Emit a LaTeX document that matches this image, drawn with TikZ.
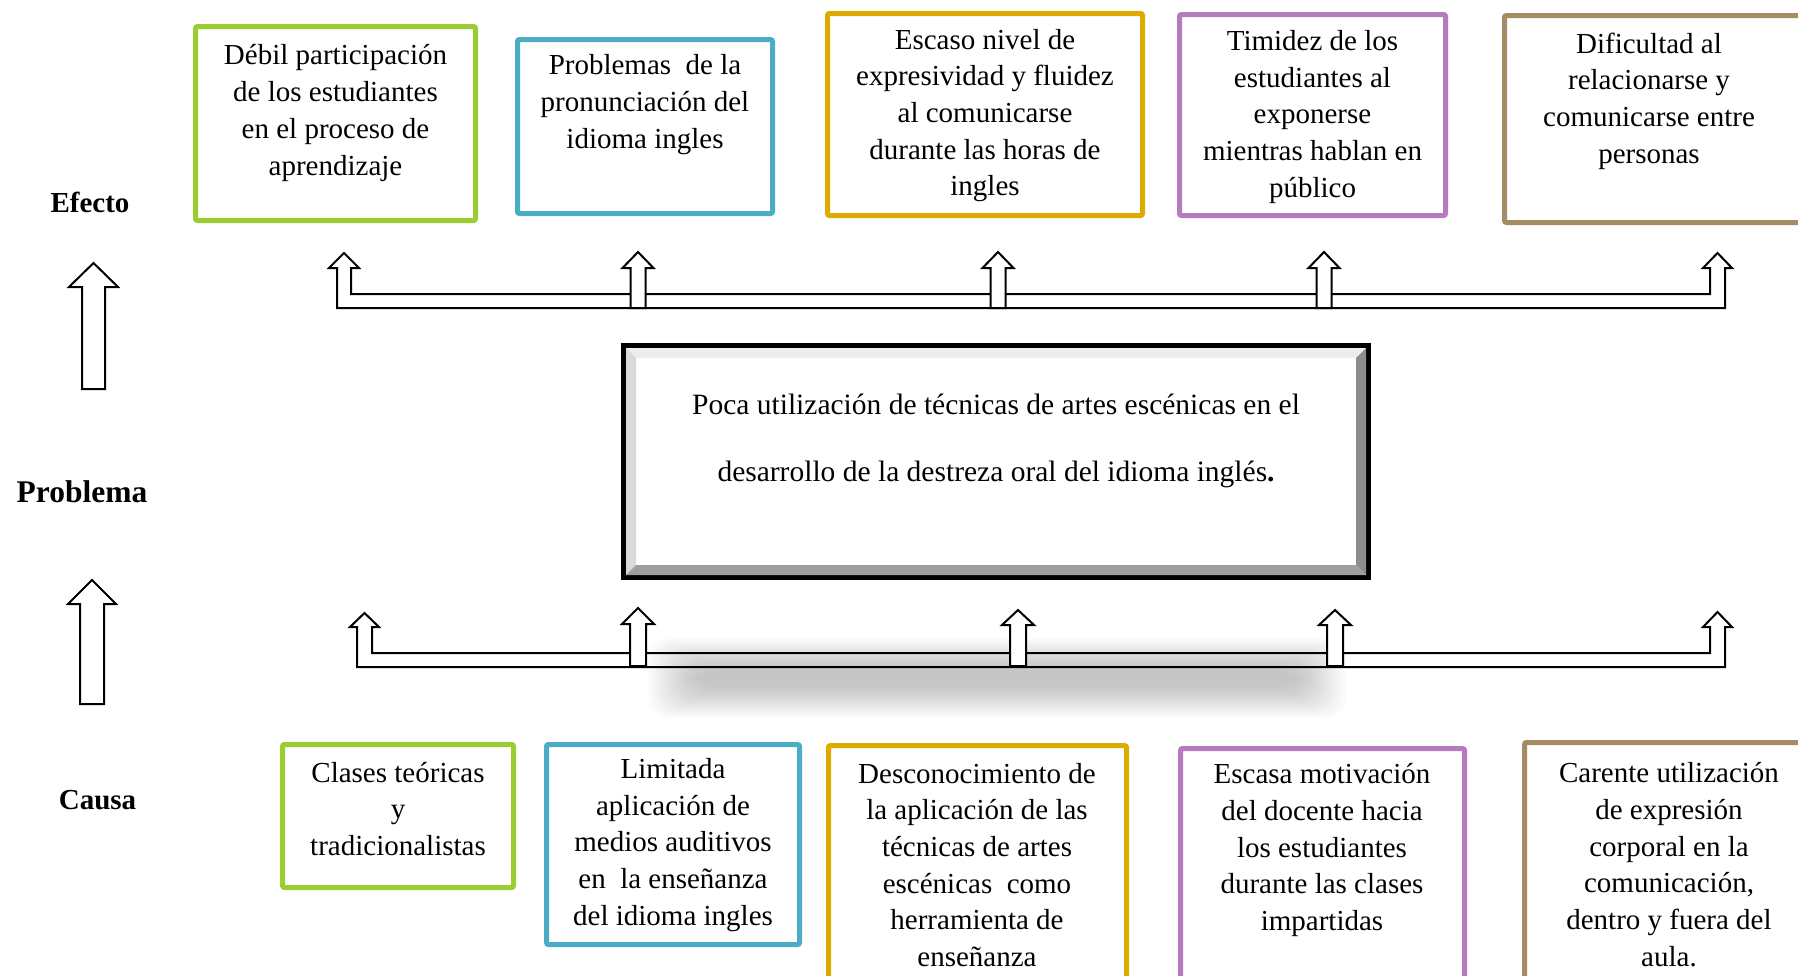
\documentclass[tikz,border=0pt]{standalone}
\usepackage{fontspec}
\setmainfont{Liberation Serif}

\definecolor{verde}{RGB}{154,205,50}
\definecolor{celeste}{RGB}{75,172,198}
\definecolor{oro}{RGB}{222,170,0}
\definecolor{lila}{RGB}{180,124,188}
\definecolor{cafe}{RGB}{166,140,100}

\tikzset{
  caja/.style={draw=#1,line width=5pt,rounded corners=2pt,fill=white,inner sep=0pt},
  texto/.style={align=center,inner sep=0pt,font=\fontsize{29}{36.7}\selectfont},
  rotulo/.style={inner sep=0pt,font=\bfseries\fontsize{29}{34}\selectfont},
  llave/.style={draw=black,line width=2pt,line join=miter},
  flecha/.style={draw=black,line width=2pt,fill=white,line join=miter}
}

% x, punta, base de la cabeza, fondo, medio ancho del cuerpo, medio ancho de la cabeza
\newcommand{\flechabloque}[6]{%
  \draw[flecha] (#1,#2) -- (#1+#6,#3) -- (#1+#5,#3) -- (#1+#5,#4) -- (#1-#5,#4) -- (#1-#5,#3) -- (#1-#6,#3) -- cycle;}

\begin{document}
\begin{tikzpicture}[x=1pt,y=-1pt]
\useasboundingbox (0,0) rectangle (1798,975);
\clip (0,0) rectangle (1798,975);

% sombra
\foreach \d in {0,...,20}
  \fill[black,opacity=.011,rounded corners=20pt] (648+2.5*\d,638+1.6*\d) rectangle (1346-2.5*\d,718-1.6*\d);

% rotulos
\node[rotulo] (efecto) at (90,202) {Efecto};
\node[rotulo,font=\bfseries\fontsize{31.5}{36}\selectfont] (problema) at (82,492) {Problema};
\node[rotulo] (causa) at (97.5,800) {Causa};

% flechas grandes
\flechabloque{93.5}{263}{287}{389}{11.5}{24.5}
\flechabloque{92}{580}{604}{704}{12}{24}

% efectos
\draw[llave] (344,253) -- (359,268) -- (351,268) -- (351,294) -- (1710,294) -- (1710,268) -- (1703,268) -- (1717.5,253) -- (1732,268) -- (1725,268) -- (1725,308) -- (337,308) -- (337,268) -- (329,268) -- cycle;
\flechabloque{638}{252}{268}{308}{7.5}{15.5}
\flechabloque{998}{252}{268}{308}{7.5}{15.5}
\flechabloque{1324}{252}{268}{308}{7.5}{15.5}

% causas
\draw[llave] (364.5,613) -- (379,627) -- (372,627) -- (372,653) -- (1710,653) -- (1710,627) -- (1703,627) -- (1717.5,612) -- (1732,627) -- (1725,627) -- (1725,667) -- (357,667) -- (357,627) -- (350,627) -- cycle;
\flechabloque{638}{608}{624}{666}{8}{16}
\flechabloque{1018}{610}{625}{666}{8}{16}
\flechabloque{1335}{610}{625}{666}{8}{16}

% problema central
\node[draw=black,line width=5pt,fill=white,minimum width=745pt,minimum height=232pt] (prob) at (996,461.5) {};
\fill[black!7] (626,348) -- (1366,348) -- (1356,358) -- (636,358) -- cycle;
\fill[black!15] (626,348) -- (636,358) -- (636,565) -- (626,575) -- cycle;
\fill[black!45] (1366,348) -- (1366,575) -- (1356,565) -- (1356,358) -- cycle;
\fill[black!38] (626,575) -- (1366,575) -- (1356,565) -- (636,565) -- cycle;
\node[texto,font=\fontsize{29.5}{67}\selectfont] (probt) at (996,441) {Poca utilización de técnicas de artes escénicas en el\\desarrollo de la destreza oral del idioma inglés{\bfseries .}};

% cajas de efecto
\node[caja=verde,minimum width=280pt,minimum height=194pt] (ef1) at (335.5,123.5) {};
\node[caja=celeste,minimum width=255pt,minimum height=174pt] (ef2) at (645,126.5) {};
\node[caja=oro,minimum width=315pt,minimum height=202pt] (ef3) at (985,114.5) {};
\node[caja=lila,minimum width=266pt,minimum height=201pt] (ef4) at (1312.5,115) {};
\node[caja=cafe,minimum width=311pt,minimum height=207pt] (ef5) at (1660,119) {};
\node[texto] (ef1t) at (335.5,113) {Débil participación\\de los estudiantes\\en el proceso de\\aprendizaje};
\node[texto] (ef2t) at (645,104.5) {Problemas~ de la\\pronunciación del\\idioma ingles};
\node[texto] (ef3t) at (985,115.5) {Escaso nivel de\\expresividad y fluidez\\al comunicarse\\durante las horas de\\ingles};
\node[texto] (ef4t) at (1312.5,117) {Timidez de los\\estudiantes al\\exponerse\\mientras hablan en\\público};
\node[texto] (ef5t) at (1649,101) {Dificultad al\\relacionarse y\\comunicarse entre\\personas};

% cajas de causa
\node[caja=verde,minimum width=231pt,minimum height=143pt] (ca1) at (398,816) {};
\node[caja=celeste,minimum width=253pt,minimum height=200pt] (ca2) at (673,844.5) {};
\node[caja=oro,minimum width=298pt,minimum height=252pt] (ca3) at (977.5,871.5) {};
\node[caja=lila,minimum width=284pt,minimum height=249pt] (ca4) at (1322.5,873) {};
\node[caja=cafe,minimum width=289pt,minimum height=255pt] (ca5) at (1669,870) {};
\node[texto] (ca1t) at (398,809) {Clases teóricas\\y\\tradicionalistas};
\node[texto] (ca2t) at (673,845) {Limitada\\aplicación de\\medios auditivos\\en~ la enseñanza\\del idioma ingles};
\node[texto] (ca3t) at (977,865) {Desconocimiento de\\la aplicación de las\\técnicas de artes\\escénicas~ como\\herramienta de\\enseñanza};
\node[texto] (ca4t) at (1322,850) {Escasa motivación\\del docente hacia\\los estudiantes\\durante las clases\\impartidas};
\node[texto] (ca5t) at (1669,864.5) {Carente utilización\\de expresión\\corporal en la\\comunicación,\\dentro y fuera del\\aula.};
\end{tikzpicture}
\end{document}
